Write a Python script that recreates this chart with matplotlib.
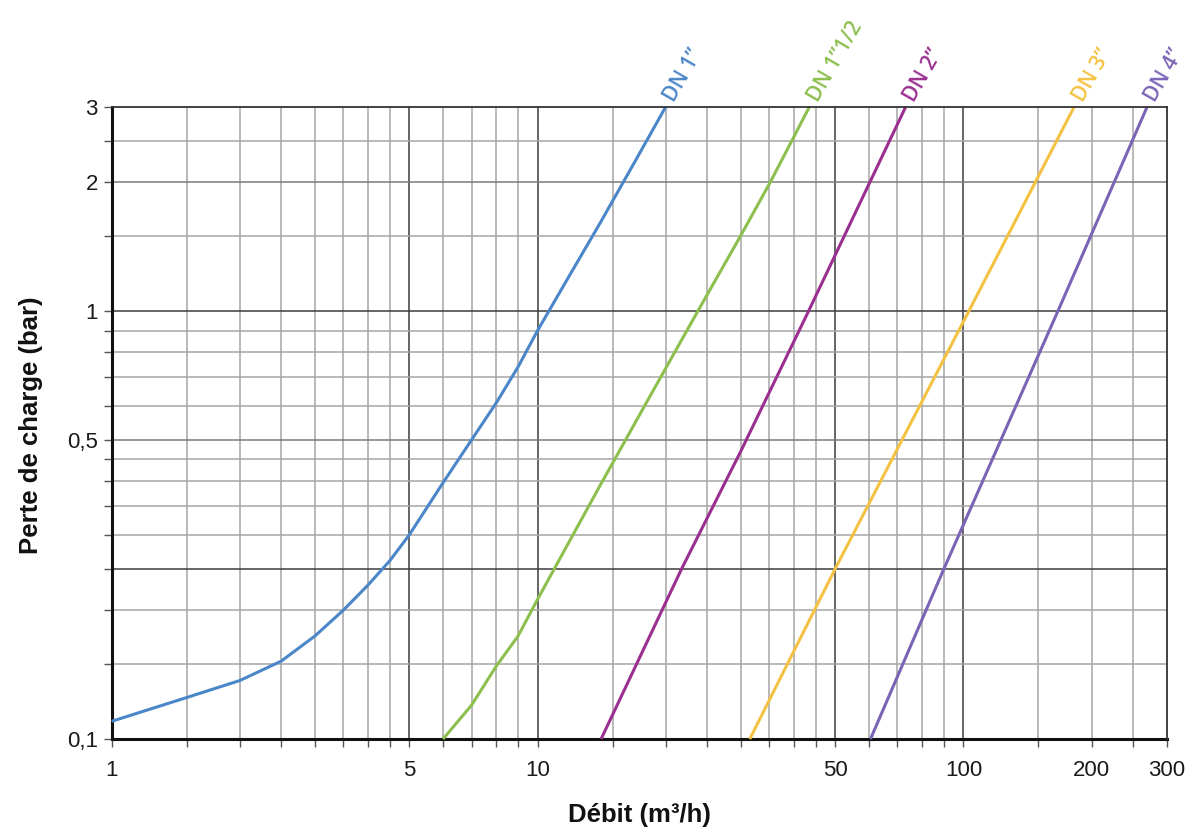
import matplotlib
matplotlib.use("Agg")
import matplotlib.pyplot as plt
from matplotlib.ticker import NullLocator

dn1_q = [1, 1.5, 2, 2.5, 3, 3.5, 4, 4.5, 5, 6, 7, 8, 9, 10, 12, 14, 17, 20]
dn1_p = [0.11, 0.125, 0.137, 0.152, 0.174, 0.2, 0.229, 0.261, 0.3, 0.397, 0.5, 0.61, 0.74, 0.9, 1.23, 1.6, 2.25, 3.0]

dn15_q = [6, 7, 8, 9, 10, 14, 18, 23.8, 30, 35.2, 43.5]
dn15_p = [0.1, 0.12, 0.148, 0.174, 0.212, 0.39, 0.61, 1.0, 1.5, 2.0, 3.0]

dn2_q = [14.1, 21.8, 30, 43.3, 73.2]
dn2_p = [0.1, 0.25, 0.47, 1.0, 3.0]

dn3_q = [31.5, 50, 103, 182]
dn3_p = [0.1, 0.25, 1.0, 3.0]

dn4_q = [60.5, 90, 166.7, 270]
dn4_p = [0.1, 0.25, 1.0, 3.0]

series = [
    ("DN 1\u201d", dn1_q, dn1_p, "#4a86c8"),
    ("DN 1\u201d1/2", dn15_q, dn15_p, "#8dbf4e"),
    ("DN 2\u201d", dn2_q, dn2_p, "#9a2f8f"),
    ("DN 3\u201d", dn3_q, dn3_p, "#f4c242"),
    ("DN 4\u201d", dn4_q, dn4_p, "#7b64b6"),
]

# grille
x_grid = [1.5, 2, 2.5, 3, 3.5, 4, 4.5, 5, 6, 7, 8, 9, 10, 15, 20, 25, 30, 35, 40, 45, 50,
          60, 70, 80, 90, 100, 150, 200, 250]
x_dark = [5, 10, 50, 100]
y_grid = [0.15, 0.2, 0.25, 0.3, 0.35, 0.4, 0.45, 0.5, 0.6, 0.7, 0.8, 0.9, 1, 1.5, 2, 2.5]
y_dark = [0.25, 1]
y_mid = [0.5, 2]

x_ticks = [1] + x_grid + [300]
x_labels = {1: "1", 5: "5", 10: "10", 50: "50", 100: "100", 200: "200", 300: "300"}
y_ticks = [0.1] + y_grid + [3]
y_labels = {0.1: "0,1", 0.5: "0,5", 1: "1", 2: "2", 3: "3"}

plt.rcParams['font.family'] = ['Liberation Sans', 'DejaVu Sans']

fig = plt.figure(figsize=(11.89, 8.30), dpi=100)
ax = fig.add_axes([0.0939, 0.1096, 0.8873, 0.7618])
ax.set_xscale('log')
ax.set_yscale('log')
ax.set_xlim(1, 300)
ax.set_ylim(0.1, 3)

for v in x_grid:
    c = "#3c3c3c" if v in x_dark else "#a6a6a6"
    ax.axvline(v, color=c, lw=1.1, zorder=1)
for v in y_grid:
    if v in y_dark:
        c = "#3c3c3c"
    elif v in y_mid:
        c = "#7a7a7a"
    else:
        c = "#a6a6a6"
    ax.axhline(v, color=c, lw=1.1, zorder=1)

for name, q, p, col in series:
    ax.plot(q, p, color=col, lw=2.2, solid_capstyle='butt', solid_joinstyle='round',
            zorder=3, clip_on=False)
    ax.annotate(name, xy=(q[-1], p[-1]), xytext=(6, 3), textcoords='offset points',
                rotation=60, rotation_mode='anchor', ha='left', va='baseline',
                color=col, fontsize=15, fontweight='semibold',
                family=['Open Sans', 'DejaVu Sans'])

ax.xaxis.set_minor_locator(NullLocator())
ax.yaxis.set_minor_locator(NullLocator())
ax.set_xticks(x_ticks, labels=[x_labels.get(v, "") for v in x_ticks])
ax.set_yticks(y_ticks, labels=[y_labels.get(v, "") for v in y_ticks])
ax.tick_params(axis='both', direction='out', length=6, width=1.0, color="#555555",
               labelsize=16, labelcolor="#1a1a1a")
ax.tick_params(axis='x', pad=9)
ax.tick_params(axis='y', pad=4)

for s in ['left', 'bottom']:
    ax.spines[s].set_linewidth(2.2)
    ax.spines[s].set_color("#111111")
for s in ['top', 'right']:
    ax.spines[s].set_linewidth(1.3)
    ax.spines[s].set_color("#333333")
    ax.spines[s].set_zorder(4)

fig.text(31 / 1189, 0.488, "Perte de charge (bar)", rotation=90, ha='center', va='center',
         fontsize=18.5, fontweight='bold', color="#111111")
fig.text(639 / 1189, 0.018, "Débit (m³/h)", ha='center', va='center',
         fontsize=18.5, fontweight='bold', color="#111111")

fig.savefig("out.png", dpi=100)
